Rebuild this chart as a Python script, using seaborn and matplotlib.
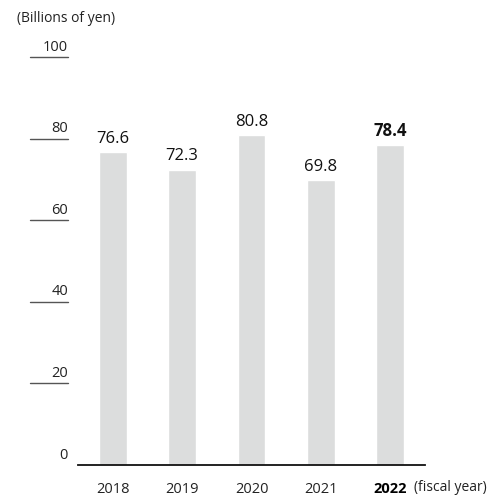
import numpy as np
import pandas as pd
import matplotlib.pyplot as plt
from matplotlib.transforms import blended_transform_factory
import seaborn as sns

# data
years = ["2018", "2019", "2020", "2021", "2022"]
values = [76.6, 72.3, 80.8, 69.8, 78.4]
yticks = [0, 20, 40, 60, 80, 100]

df = pd.DataFrame({"year": years, "value": values})

sns.set_style("white")
plt.rcParams["font.family"] = ["Open Sans", "DejaVu Sans"]

fig = plt.figure(figsize=(4.9, 4.97), dpi=100)
ax = fig.add_axes([78 / 490, 1 - 465 / 497, (425 - 78) / 490, (465 - 57) / 497])

sns.barplot(data=df, x="year", y="value", color="#dcdddd", width=0.4,
            saturation=1, ax=ax)

ax.set_xlim(-0.5, 4.5)
ax.set_ylim(0, 100)
ax.set_xlabel("")
ax.set_ylabel("")
for s in ["top", "right", "left"]:
    ax.spines[s].set_visible(False)
ax.spines["bottom"].set_color("#111111")
ax.spines["bottom"].set_linewidth(1.3)
ax.set_yticks([])
ax.tick_params(axis="x", length=0, pad=12, labelsize=10.5, colors="#222222")
for lbl in ax.get_xticklabels():
    if lbl.get_text() == "2022":
        lbl.set_fontweight("bold")
        lbl.set_color("#000000")

# y ticks drawn as short lines with labels above them
tr = blended_transform_factory(ax.transAxes, ax.transData)
x0, x1 = (30 - 78) / 347, (68 - 78) / 347
for t in yticks:
    if t > 0:
        ax.plot([x0, x1], [t, t], transform=tr, color="#555555", lw=1,
                clip_on=False)
    ax.text(x1, t + 0.6, str(t), transform=tr, ha="right", va="bottom",
            fontsize=10.5, color="#222222")

# value labels
for i, v in enumerate(values):
    ax.annotate(f"{v:.1f}", (i, v), xytext=(0, 4), textcoords="offset points",
                ha="center", va="bottom", fontsize=12,
                fontweight="bold" if i == len(values) - 1 else "normal",
                color="#111111")

fig.text(17 / 490, 1 - 18 / 497, "(Billions of yen)", ha="left", va="center",
         fontsize=10, color="#222222")
ax.text(4.34, -0.056, "(fiscal year)",
        transform=blended_transform_factory(ax.transData, ax.transAxes),
        ha="left", va="center", fontsize=10, color="#222222")

fig.savefig("out.png", dpi=100)
